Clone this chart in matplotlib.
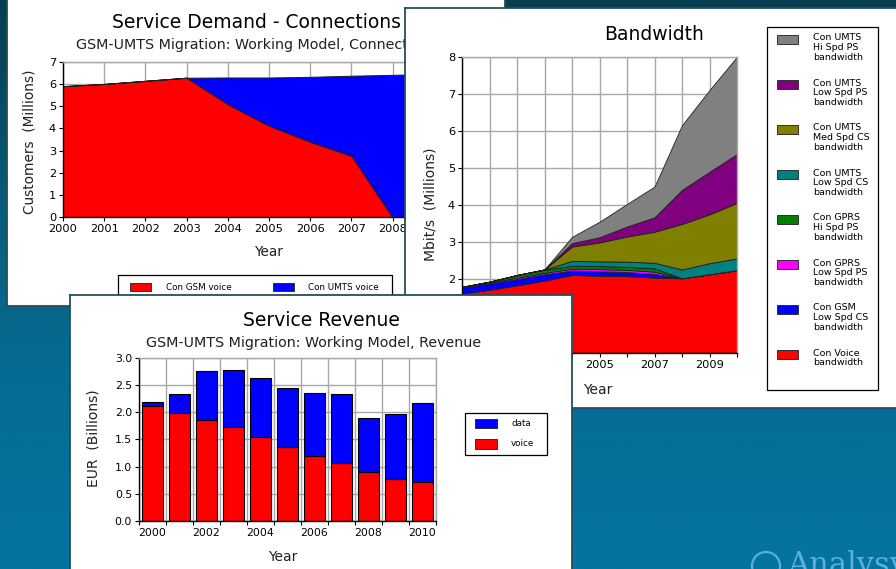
import numpy as np
import matplotlib
matplotlib.use('Agg')
import matplotlib.pyplot as plt
from matplotlib.patches import Rectangle, Circle
from matplotlib.ticker import FormatStrFormatter

plt.rcParams['font.family'] = ['DejaVu Sans']

# ---------------- data ----------------
# Panel 1: Service Demand - Connections (millions of customers)
conn_years = [2000, 2001, 2002, 2003, 2004, 2005, 2006, 2007, 2008, 2009, 2010]
conn_gsm = [5.90, 6.00, 6.14, 6.28, 5.09, 4.12, 3.40, 2.77, 0.00, 0.00, 0.00]
conn_umts = [0.00, 0.00, 0.00, 0.00, 1.20, 2.17, 2.92, 3.60, 6.41, 6.45, 6.49]
conn_labels = ["Con GSM voice", "Con UMTS voice"]

# Panel 2: Bandwidth (Mbit/s, millions), stacked bottom -> top
bw_years = [2000, 2001, 2002, 2003, 2004, 2005, 2006, 2007, 2008, 2009, 2010]
bw_voice = [1.60, 1.70, 1.82, 1.95, 2.10, 2.08, 2.07, 2.03, 2.01, 2.12, 2.23]
bw_gsm_low_cs = [0.16, 0.17, 0.17, 0.17, 0.12, 0.12, 0.11, 0.10, 0.00, 0.00, 0.00]
bw_gprs_low_ps = [0.01, 0.02, 0.04, 0.04, 0.05, 0.06, 0.06, 0.06, 0.00, 0.00, 0.00]
bw_gprs_hi_ps = [0.01, 0.03, 0.07, 0.08, 0.08, 0.08, 0.08, 0.09, 0.00, 0.00, 0.00]
bw_umts_low_cs = [0.00, 0.00, 0.00, 0.01, 0.13, 0.13, 0.14, 0.15, 0.24, 0.30, 0.32]
bw_umts_med_cs = [0.00, 0.00, 0.00, 0.00, 0.39, 0.51, 0.68, 0.84, 1.23, 1.32, 1.50]
bw_umts_low_ps = [0.00, 0.00, 0.00, 0.00, 0.09, 0.14, 0.27, 0.39, 0.92, 1.15, 1.32]
bw_umts_hi_ps = [0.00, 0.00, 0.00, 0.00, 0.17, 0.42, 0.61, 0.83, 1.75, 2.21, 2.63]
bw_labels = ["Con Voice\nbandwidth", "Con GSM\nLow Spd CS\nbandwidth",
             "Con GPRS\nLow Spd PS\nbandwidth", "Con GPRS\nHi Spd PS\nbandwidth",
             "Con UMTS\nLow Spd CS\nbandwidth", "Con UMTS\nMed Spd CS\nbandwidth",
             "Con UMTS\nLow Spd PS\nbandwidth", "Con UMTS\nHi Spd PS\nbandwidth"]
bw_colors = ['#ff0000', '#0000ff', '#ff00ff', '#008000',
             '#008080', '#808000', '#800080', '#808080']

# Panel 3: Service Revenue (EUR billions)
rev_years = [2000, 2001, 2002, 2003, 2004, 2005, 2006, 2007, 2008, 2009, 2010]
rev_voice = [2.11, 1.985, 1.855, 1.73, 1.545, 1.355, 1.19, 1.06, 0.895, 0.765, 0.71]
rev_data = [0.08, 0.355, 0.905, 1.05, 1.075, 1.095, 1.17, 1.28, 1.005, 1.205, 1.46]
rev_labels = ["data", "voice"]

# ---------------- figure ----------------
W, H = 896, 569
fig = plt.figure(figsize=(W / 100, H / 100), dpi=100)


def frac(x0, y0, x1, y1):
    return [x0 / W, 1 - y1 / H, (x1 - x0) / W, (y1 - y0) / H]


# background gradient
bg = fig.add_axes([0, 0, 1, 1], zorder=0)
stops_y = [0.0, 0.45, 0.72, 1.0]
stops_c = np.array([[6, 62, 80], [8, 98, 132], [4, 110, 152], [4, 116, 160]]) / 255.0
yy = np.linspace(0, 1, 300)
grad = np.stack([np.interp(yy, stops_y, stops_c[:, k]) for k in range(3)], axis=-1)
img = np.repeat(grad[:, None, :], 2, axis=1)
bg.imshow(img, extent=[0, W, H, 0], aspect='auto', interpolation='bilinear')
bg.set_xlim(0, W)
bg.set_ylim(H, 0)
bg.set_axis_off()
wm = '#5aaee0'
bg.add_patch(Circle((766, 566), 14, fill=False, ec=wm, lw=1.6))
bg.text(787, 574, "Analysys", color=wm, fontsize=22, family='DejaVu Serif',
        va='baseline', ha='left')


def make_pane(x0, y0, x1, y1, z):
    p = fig.add_axes(frac(x0, y0, x1, y1), zorder=z)
    p.set_xlim(x0, x1)
    p.set_ylim(y1, y0)
    p.set_xticks([])
    p.set_yticks([])
    p.set_facecolor('white')
    for s in p.spines.values():
        s.set_color('#234f5b')
        s.set_linewidth(1.3)
    return p


def style(ax, fs):
    ax.set_axisbelow(True)
    for s in ['top', 'right']:
        ax.spines[s].set_color('#a8a8a8')
        ax.spines[s].set_linewidth(1.0)
    for s in ['left', 'bottom']:
        ax.spines[s].set_color('black')
        ax.spines[s].set_linewidth(1.0)
    ax.tick_params(labelsize=fs, length=3, width=0.8, pad=2, colors='black')


def legend_box(p, x0, y0, x1, y1):
    p.add_patch(Rectangle((x0, y0), x1 - x0, y1 - y0, fill=False,
                          ec='black', lw=0.9, zorder=5))


def legend_patch(p, x, y, w, h, color):
    p.add_patch(Rectangle((x, y), w, h, fc=color, ec='#303030', lw=0.7, zorder=6))


edge = '#1e1e1e'

# ---------------- panel 1 ----------------
p1 = make_pane(7, -1, 505, 306, 1)
ax1 = fig.add_axes(frac(63, 61.7, 475, 217.3), zorder=1.5)
ax1.stackplot(conn_years, conn_gsm, conn_umts, colors=['#ff0000', '#0000ff'],
              edgecolor=edge, linewidth=0.7)
ax1.set_xlim(2000, 2010)
ax1.set_ylim(0, 7)
ax1.set_xticks(conn_years)
ax1.set_xticklabels([str(y) for y in conn_years])
ax1.set_yticks(range(0, 8))
ax1.grid(True, color='#a8a8a8', lw=1)
style(ax1, 8.2)

p1.text(256.5, 22, "Service Demand - Connections", ha='center', va='center', fontsize=13.5)
p1.text(256.5, 45, "GSM-UMTS Migration: Working Model, Connections", ha='center',
        va='center', fontsize=10.3, color='#202020')
p1.text(30, 142, "Customers  (Millions)", rotation=90, ha='center', va='center',
        fontsize=9.8, color='#202020')
p1.text(268, 252, "Year", ha='center', va='center', fontsize=9.8, color='#202020')
legend_box(p1, 118, 275, 392, 300)
legend_patch(p1, 130, 283, 21, 8, '#ff0000')
legend_patch(p1, 273, 283, 21, 8, '#0000ff')
p1.text(166, 287.5, conn_labels[0], ha='left', va='center', fontsize=6.3)
p1.text(308, 287.5, conn_labels[1], ha='left', va='center', fontsize=6.3)

# ---------------- panel 2 ----------------
p2 = make_pane(405, 8, 900, 408, 2)
ax2 = fig.add_axes(frac(462, 56.7, 737, 352.7), zorder=2.5)
ax2.stackplot(bw_years, bw_voice, bw_gsm_low_cs, bw_gprs_low_ps, bw_gprs_hi_ps,
              bw_umts_low_cs, bw_umts_med_cs, bw_umts_low_ps, bw_umts_hi_ps,
              colors=bw_colors, edgecolor=edge, linewidth=0.6)
ax2.set_xlim(2000, 2010)
ax2.set_ylim(0, 8)
ax2.set_xticks(bw_years)
ax2.set_xticklabels([str(y) if y % 2 else '' for y in bw_years])
ax2.set_yticks(range(0, 9))
ax2.grid(True, color='#a8a8a8', lw=1)
style(ax2, 8.2)

p2.text(654.5, 34, "Bandwidth", ha='center', va='center', fontsize=13.5)
p2.text(430, 204, "Mbit/s  (Millions)", rotation=90, ha='center', va='center',
        fontsize=10, color='#202020')
p2.text(598, 390, "Year", ha='center', va='center', fontsize=10, color='#202020')
legend_box(p2, 767, 27, 878, 390)
for i, (lab, col) in enumerate(zip(bw_labels[::-1], bw_colors[::-1])):
    ytop = 35 + 45 * i
    legend_patch(p2, 777, ytop, 21, 9, col)
    p2.text(813, ytop - 1.5, lab, ha='left', va='top', fontsize=6.8, linespacing=1.12)

# ---------------- panel 3 ----------------
p3 = make_pane(70, 295, 572, 575, 3)
ax3 = fig.add_axes(frac(139, 357.7, 435.7, 521), zorder=3.5)
ax3.bar(rev_years, rev_voice, width=0.78, color='#ff0000', edgecolor='black', lw=0.8)
ax3.bar(rev_years, rev_data, width=0.78, bottom=rev_voice, color='#0000ff',
        edgecolor='black', lw=0.8)
ax3.set_xlim(1999.5, 2010.5)
ax3.set_ylim(0, 3)
ax3.set_xticks([y for y in rev_years if y % 2 == 0])
ax3.set_xticks(np.arange(1999.5, 2011, 1.0), minor=True)
ax3.set_yticks(np.arange(0, 3.01, 0.5))
ax3.yaxis.set_major_formatter(FormatStrFormatter('%.1f'))
ax3.grid(True, axis='y', which='major', color='#a8a8a8', lw=1)
ax3.grid(True, axis='x', which='minor', color='#a8a8a8', lw=1)
style(ax3, 7.8)
ax3.tick_params(axis='x', which='major', length=0, pad=5)
ax3.tick_params(axis='x', which='minor', length=3, width=0.8)

p3.text(321, 320, "Service Revenue", ha='center', va='center', fontsize=13.5)
p3.text(314, 343, "GSM-UMTS Migration: Working Model, Revenue", ha='center',
        va='center', fontsize=10.3, color='#202020')
p3.text(93, 438, "EUR  (Billions)", rotation=90, ha='center', va='center',
        fontsize=10, color='#202020')
p3.text(283, 557, "Year", ha='center', va='center', fontsize=10, color='#202020')
legend_box(p3, 465, 413, 547, 455)
legend_patch(p3, 475, 419, 22, 9, '#0000ff')
legend_patch(p3, 475, 439, 22, 10, '#ff0000')
p3.text(511, 423.5, rev_labels[0], ha='left', va='center', fontsize=6.3)
p3.text(511, 444, rev_labels[1], ha='left', va='center', fontsize=6.3)

fig.savefig('out.png', dpi=100)
